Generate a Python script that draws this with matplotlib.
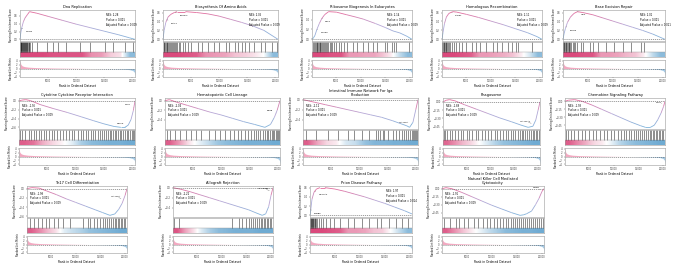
import numpy as np
import matplotlib
matplotlib.use("Agg")
import matplotlib.pyplot as plt
from matplotlib.collections import LineCollection
from matplotlib.colors import LinearSegmentedColormap, Normalize

# ---------------- data ----------------
N_GENES = 20500

titles = ["Dna Replication", "Biosynthesis Of Amino Acids", "Ribosome Biogenesis In Eukaryotes",
          "Homologous Recombination", "Base Excision Repair",
          "Cytokine Cytokine Receptor Interaction", "Hematopoietic Cell Lineage",
          "Intestinal Immune Network For Iga\nProduction", "Phagosome", "Chemokine Signaling Pathway",
          "Th17 Cell Differentiation", "Allograft Rejection", "Prion Disease Pathway",
          "Natural Killer Cell Mediated\nCytotoxicity"]

nes = [2.28, 2.05, 2.14, 2.11, 2.01, -1.96, -2.04, -2.12, -1.89, -1.93, -1.98, -2.22, 1.97, -1.91]
pvals = ["0.001"] * 14
padj = ["0.009", "0.009", "0.009", "0.009", "0.011", "0.009", "0.009", "0.009",
        "0.009", "0.009", "0.009", "0.009", "0.014", "0.009"]

metric_rank = [0, 150, 400, 800, 1500, 3000, 6000, 10000, 14000, 17000, 18500, 19500, 20100, 20400, 20500]
metric_value = [4.2, 2.2, 1.4, 1.0, 0.7, 0.45, 0.25, 0.08, -0.05, -0.2, -0.35, -0.6, -1.1, -2.0, -3.8]

es_rank_1 = [0, 150, 350, 600, 900, 1300, 1700, 3000, 5000, 7500, 10000, 12500, 15000, 17500, 19500, 20500]
es_val_1 = [0, 0.18, 0.32, 0.45, 0.55, 0.63, 0.71, 0.67, 0.59, 0.49, 0.39, 0.30, 0.21, 0.12, 0.04, 0.0]
es_rank_2 = [0, 200, 500, 900, 1400, 2000, 2500, 4000, 6000, 8000, 10000, 12000, 14000, 16000, 18000, 20500]
es_val_2 = [0, 0.2, 0.38, 0.5, 0.56, 0.6, 0.62, 0.62, 0.6, 0.57, 0.52, 0.45, 0.38, 0.3, 0.2, 0.0]
es_rank_3 = [0, 300, 600, 1000, 1500, 2000, 2600, 3400, 5000, 7000, 9000, 10500, 13000, 15000, 16600, 18000, 19500, 20500]
es_val_3 = [0, 0.03, 0.08, 0.2, 0.32, 0.42, 0.5, 0.56, 0.55, 0.5, 0.45, 0.41, 0.32, 0.24, 0.17, 0.13, 0.06, 0.0]
es_rank_4 = [0, 200, 500, 900, 1400, 2200, 3000, 5000, 7500, 10000, 12500, 15000, 17500, 19500, 20500]
es_val_4 = [0, 0.15, 0.35, 0.5, 0.58, 0.62, 0.61, 0.56, 0.49, 0.41, 0.33, 0.24, 0.15, 0.06, 0.0]
es_rank_5 = [0, 200, 500, 900, 1500, 2200, 2900, 4000, 6000, 8000, 10000, 12000, 14000, 16000, 18000, 20500]
es_val_5 = [0, 0.12, 0.25, 0.38, 0.5, 0.58, 0.62, 0.6, 0.55, 0.48, 0.41, 0.34, 0.27, 0.2, 0.12, 0.0]
es_rank_6 = [0, 500, 1200, 2000, 3700, 6000, 8500, 11000, 13200, 15000, 16800, 18000, 18700, 19300, 19800, 20200, 20500]
es_val_6 = [0, 0.02, 0.03, 0.01, -0.08, -0.17, -0.26, -0.36, -0.45, -0.52, -0.58, -0.6, -0.6, -0.55, -0.42, -0.22, 0.0]
es_rank_7 = [0, 800, 2000, 4000, 6000, 8000, 10000, 12000, 14000, 16000, 17800, 18800, 19500, 20000, 20500]
es_val_7 = [0, 0.02, -0.03, -0.1, -0.17, -0.24, -0.3, -0.37, -0.44, -0.5, -0.56, -0.5, -0.35, -0.2, 0.0]
es_rank_8 = [0, 2000, 4000, 6000, 8000, 10000, 12000, 14000, 16000, 17500, 18500, 19000, 19600, 20100, 20500]
es_val_8 = [0, -0.05, -0.1, -0.15, -0.2, -0.25, -0.3, -0.35, -0.42, -0.48, -0.52, -0.55, -0.45, -0.2, 0.0]
es_rank_9 = [0, 700, 1400, 2500, 4500, 7000, 9500, 12000, 14500, 16500, 18000, 19000, 19600, 20100, 20500]
es_val_9 = [0, 0.03, 0.04, 0.02, -0.05, -0.13, -0.21, -0.29, -0.36, -0.42, -0.46, -0.44, -0.33, -0.15, 0.0]
es_rank_10 = [0, 700, 2000, 3500, 5500, 7500, 9500, 11500, 13500, 15500, 16500, 17500, 18300, 19000, 19700, 20200, 20500]
es_val_10 = [0, 0.02, 0.03, 0.0, -0.07, -0.15, -0.23, -0.31, -0.39, -0.46, -0.49, -0.49, -0.45, -0.35, -0.22, -0.1, 0.0]
es_rank_11 = [0, 1000, 2500, 4000, 6000, 8000, 10000, 12000, 14000, 15500, 17000, 18000, 18800, 19500, 20100, 20500]
es_val_11 = [0, 0.02, 0.01, -0.05, -0.13, -0.22, -0.3, -0.38, -0.46, -0.52, -0.58, -0.55, -0.45, -0.32, -0.15, 0.0]
es_rank_12 = [0, 1500, 3500, 5500, 7500, 9500, 11500, 13500, 15500, 17000, 18300, 19000, 19600, 20100, 20500]
es_val_12 = [0, -0.03, -0.08, -0.14, -0.2, -0.26, -0.32, -0.38, -0.44, -0.5, -0.55, -0.52, -0.38, -0.15, 0.0]
es_rank_13 = [0, 150, 400, 800, 1300, 2000, 3000, 5000, 7000, 9000, 11000, 13000, 15000, 17000, 19000, 20500]
es_val_13 = [0, 0.12, 0.35, 0.5, 0.57, 0.6, 0.6, 0.57, 0.52, 0.46, 0.4, 0.33, 0.26, 0.18, 0.1, 0.03]
es_rank_14 = [0, 800, 2000, 4000, 6000, 8000, 10000, 12000, 14000, 15700, 16400, 17000, 18000, 18800, 19500, 20100, 20500]
es_val_14 = [0, 0.02, 0.0, -0.07, -0.15, -0.23, -0.31, -0.38, -0.45, -0.5, -0.49, -0.47, -0.42, -0.3, -0.18, -0.05, 0.0]

hits_1 = [40, 110, 180, 260, 330, 400, 480, 560, 640, 720, 810, 900, 990, 1080, 1180, 1290, 1400, 1520, 1650,
          1800, 2100, 3000, 4900, 5900, 6800, 8200, 10700, 12500, 15200, 16600, 18700, 20100]
hits_2 = [100, 250, 400, 520, 650, 800, 950, 1100, 1250, 1400, 1550, 1700, 1900, 2100, 2300, 2500, 2800, 3100,
          3500, 3900, 4400, 5000, 6300, 6900, 8000, 9100, 10000, 11200, 11800, 12800, 13400, 14100, 14700,
          15300, 16200, 17500, 18200, 19500, 20300]
hits_3 = [150, 400, 650, 800, 950, 1100, 1250, 1400, 1550, 1700, 1850, 2000, 2200, 2400, 2600, 2800, 3000, 3300,
          3600, 3900, 4200, 4600, 5000, 5500, 6000, 6600, 7200, 8400, 9300, 10500, 11400, 12600, 13400, 15000,
          15400, 16300, 16800, 17300, 19900]
hits_4 = [80, 200, 330, 460, 600, 750, 900, 1050, 1250, 1450, 1700, 2000, 2400, 2900, 3500, 4200, 5000, 6200,
          7000, 7800, 9000, 10500, 11300, 12200, 13600, 14300, 15200, 15500, 18400]
hits_5 = [50, 150, 280, 400, 550, 700, 850, 1000, 1150, 1300, 1500, 1700, 1950, 2200, 2500, 2900, 3600, 4000,
          5500, 6100, 7000, 8700, 10300, 12000, 13700, 15700, 16300]
hits_6 = [200, 600, 1100, 1700, 2100, 2600, 3000, 3500, 3900, 4400, 4800, 5300, 5800, 6200, 6700, 7200, 7800,
          8300, 8800, 9300, 9800, 10400, 10900, 11300, 11800, 12200, 12700, 13100, 13500, 13900, 14300, 14700,
          15000, 15400, 15700, 16000, 16300, 16600, 16900, 17200, 17500, 17800, 18100, 18400, 18700, 19000,
          19300, 19600, 19900, 20200, 20400]
hits_7 = [300, 900, 1800, 2600, 3800, 4700, 5600, 6500, 7800, 9000, 9800, 10700, 11500, 12300, 13000, 13600,
          14200, 14800, 15300, 15800, 16200, 16600, 17000, 17400, 17800, 18100, 18400, 18700, 19000, 19300,
          19500, 19700, 19900, 20100, 20300, 20450]
hits_8 = [500, 2300, 4400, 6300, 8000, 9100, 10600, 11800, 13000, 13400, 13800, 14200, 14500, 15200, 16100,
          16600, 17100, 17600, 18000, 18400, 18800, 19100, 19400, 19600, 19800, 20000, 20200, 20400]
hits_9 = [150, 500, 900, 1400, 2000, 2500, 3100, 3700, 4300, 5000, 5600, 6200, 6900, 7500, 8200, 8900, 9600,
          10200, 10900, 11500, 12100, 12700, 13300, 13800, 14300, 14800, 15300, 15800, 16200, 16600, 17000,
          17400, 17800, 18200, 18600, 19000, 19300, 19600, 19900, 20200, 20400]
hits_10 = [250, 700, 1300, 1900, 2700, 3400, 4200, 4900, 5700, 6400, 7100, 7900, 8600, 9400, 10100, 10800,
           11400, 12000, 12600, 13100, 13600, 14100, 14600, 15000, 15400, 15800, 16200, 16600, 17000, 17400,
           17700, 18000, 18300, 18600, 18900, 19200, 19500, 19800, 20100, 20400]
hits_11 = [700, 1500, 2200, 3100, 3800, 4600, 5500, 6300, 7400, 8800, 11500, 12500, 13000, 13800, 14400, 15000,
           15500, 16000, 16400, 16800, 17200, 17600, 18000, 18300, 18600, 18900, 19200, 19500, 19800, 20100, 20400]
hits_12 = [300, 1200, 12000, 13600, 14200, 14900, 15600, 16000, 16400, 16800, 17200, 17600, 18000, 18300,
           18600, 18900, 19200, 19500, 19800, 20100, 20400]
hits_13 = [60, 160, 260, 360, 460, 560, 680, 800, 950, 1100, 1300, 1500, 1800, 2200, 2700, 3300, 4000, 4900,
           6000, 7600, 8800, 10500, 11900, 13400, 14300, 15800, 17200, 18400, 19700]
hits_14 = [400, 1600, 2900, 3500, 4500, 5300, 6400, 7300, 8200, 9000, 9700, 10400, 11000, 11700, 12300, 12800,
           13300, 13800, 14300, 14700, 15100, 15500, 15900, 16300, 16700, 17100, 17500, 17900, 18300, 18700,
           19100, 19500, 19900, 20300]

strip_1 = [0.9, 0.9, 0.9, 0.85, 0.85, 0.85, 0.85, 0.55, 0.5, 0.25, 0.15, -0.6]
strip_2 = [0.9, 0.9, 0.85, 0.8, 0.55, 0.5, 0.45, 0.3, 0.25, 0.15, 0.0, -0.6]
strip_3 = [0.9, 0.9, 0.85, 0.85, 0.5, 0.5, 0.45, 0.45, 0.3, 0.1, -0.3, -0.6]
strip_4 = [0.9, 0.9, 0.85, 0.8, 0.5, 0.5, 0.45, 0.4, 0.3, 0.1, -0.2, -0.6]
strip_5 = [0.9, 0.9, 0.85, 0.85, 0.5, 0.5, 0.45, 0.35, 0.3, 0.1, -0.3, -0.6]
strip_6 = [0.8, 0.7, 0.4, 0.2, 0.05, -0.15, -0.45, -0.6, -0.65, -0.7, -0.7, -0.75]
strip_7 = [0.8, 0.5, 0.15, -0.1, -0.3, -0.5, -0.6, -0.65, -0.7, -0.7, -0.7, -0.75]
strip_8 = [0.8, 0.45, 0.2, 0.1, -0.2, -0.3, -0.55, -0.65, -0.65, -0.7, -0.7, -0.75]
strip_9 = [0.75, 0.55, 0.35, 0.2, 0.0, -0.2, -0.4, -0.55, -0.6, -0.65, -0.7, -0.75]
strip_10 = [0.8, 0.6, 0.4, 0.2, 0.1, -0.1, -0.35, -0.5, -0.6, -0.65, -0.7, -0.75]
strip_11 = [0.8, 0.6, 0.35, 0.15, -0.15, -0.3, -0.4, -0.55, -0.6, -0.65, -0.7, -0.75]
strip_12 = [0.85, 0.45, 0.15, -0.2, -0.45, -0.6, -0.65, -0.7, -0.7, -0.7, -0.75, -0.75]
strip_13 = [0.9, 0.9, 0.85, 0.8, 0.5, 0.5, 0.45, 0.3, 0.25, 0.0, -0.3, -0.6]
strip_14 = [0.8, 0.55, 0.3, 0.1, -0.1, -0.3, -0.45, -0.6, -0.65, -0.7, -0.7, -0.75]

genes_1 = [("MCM3", 300)]
genes_2 = [("PSAT1", 700), ("PHGDH", 2200)]
genes_3 = [("NOP56", 1000), ("DKC1", 2000)]
genes_4 = [("RAD51", 2000)]
genes_5 = [("POLE3", 600), ("UNG", 2900)]
genes_6 = [("CCL5", 20300), ("CXCL9", 19000)]
genes_7 = [("CD3E", 19800)]
genes_8 = [("HLA-DRA", 19300)]
genes_9 = [("HLA-DPA1", 19200)]
genes_10 = [("CCL5", 20300)]
genes_11 = [("HLA-DRA", 19800)]
genes_12 = [("HLA-DRB1", 20300)]
genes_13 = [("NDUFA4", 1000), ("PSMB5", 150)]
genes_14 = [("GZMB", 20200)]

# ---------------- layout (pixels) ----------------
W, H = 685, 266
row_tops = [0, 88, 176]
col_x = [[(20, 135), (163, 278), (312, 412), (442, 542), (563, 665)],
         [(19, 135), (165, 280), (303, 418), (443, 540), (565, 665)],
         [(27, 127), (173, 273), (310, 412), (442, 544)]]

es_ranks = [es_rank_1, es_rank_2, es_rank_3, es_rank_4, es_rank_5, es_rank_6, es_rank_7,
            es_rank_8, es_rank_9, es_rank_10, es_rank_11, es_rank_12, es_rank_13, es_rank_14]
es_vals = [es_val_1, es_val_2, es_val_3, es_val_4, es_val_5, es_val_6, es_val_7,
           es_val_8, es_val_9, es_val_10, es_val_11, es_val_12, es_val_13, es_val_14]
hits_all = [hits_1, hits_2, hits_3, hits_4, hits_5, hits_6, hits_7, hits_8, hits_9, hits_10,
            hits_11, hits_12, hits_13, hits_14]
strips = [strip_1, strip_2, strip_3, strip_4, strip_5, strip_6, strip_7, strip_8, strip_9,
          strip_10, strip_11, strip_12, strip_13, strip_14]
genes_all = [genes_1, genes_2, genes_3, genes_4, genes_5, genes_6, genes_7, genes_8, genes_9,
             genes_10, genes_11, genes_12, genes_13, genes_14]

line_cmap = LinearSegmentedColormap.from_list("es", ["#7DB3DA", "#B7A7D6", "#E5699A"])
strip_cmap = LinearSegmentedColormap.from_list("st", ["#3F8FC4", "#FFFFFF", "#D7376F"])

fig = plt.figure(figsize=(W / 100, H / 100), dpi=100)
SP = "#9A9A9A"


def ax_px(x0, x1, y0, y1):
    return fig.add_axes([x0 / W, 1 - y1 / H, (x1 - x0) / W, (y1 - y0) / H])


def style(ax):
    for s in ax.spines.values():
        s.set_color(SP)
        s.set_linewidth(0.4)
    ax.tick_params(length=1, width=0.3, pad=0.6, labelsize=1.8, colors="#444444")


k = 0
for r, row in enumerate(col_x):
    top = row_tops[r]
    for (x0, x1) in row:
        xr = np.array(es_ranks[k], dtype=float)
        yv = np.array(es_vals[k], dtype=float)
        pos = nes[k] > 0

        # --- running ES
        ax = ax_px(x0, x1, top + 10, top + 41)
        style(ax)
        pts = np.column_stack([xr, yv]).reshape(-1, 1, 2)
        segs = np.concatenate([pts[:-1], pts[1:]], axis=1)
        lc = LineCollection(segs, cmap=line_cmap, norm=Normalize(yv.min(), yv.max()), linewidth=0.6)
        lc.set_array((yv[:-1] + yv[1:]) / 2)
        ax.add_collection(lc)
        ax.axhline(0, color="#555555", lw=0.4, ls=(0, (2, 1.5)))
        ax.set_xlim(0, N_GENES)
        lo, hi = yv.min(), yv.max()
        pad = (hi - lo) * 0.06
        ax.set_ylim(lo - pad, hi + pad)
        ax.set_xticks([])
        ax.yaxis.set_major_locator(plt.MaxNLocator(4))
        ax.set_ylabel("Running Enrichment Score", fontsize=1.8, labelpad=1)
        ax.set_title(titles[k], fontsize=2.6, pad=1.2, linespacing=1.0)
        stat = f"NES: {nes[k]:.2f}\nPvalue = {pvals[k]}\nAdjusted Pvalue = {padj[k]}"
        if pos:
            ax.text(0.75, 0.9, stat, transform=ax.transAxes, fontsize=1.8, va="top", ha="left", linespacing=1.3)
        else:
            ax.text(0.03, 0.82, stat, transform=ax.transAxes, fontsize=1.8, va="top", ha="left", linespacing=1.3)
        for gname, grank in genes_all[k]:
            gy = np.interp(grank, xr, yv)
            if pos:
                tx, ty = grank + 700, gy - (hi - lo) * 0.12
                ha = "left"
            else:
                tx, ty = grank - 500, gy + (hi - lo) * 0.1
                ha = "right"
            ax.annotate(gname, xy=(grank, gy), xytext=(tx, ty), fontsize=1.6, ha=ha, va="center",
                        arrowprops=dict(arrowstyle="-", lw=0.2, color="#333333"))

        # --- hits + strip
        axb = ax_px(x0, x1, top + 42, top + 57)
        style(axb)
        axb.set_xlim(0, N_GENES)
        axb.set_ylim(0, 1)
        axb.vlines(hits_all[k], 0.32, 1.0, color="black", lw=0.45, alpha=0.7)
        sv = np.array(strips[k])[None, :]
        axb.imshow(sv, cmap=strip_cmap, vmin=-1, vmax=1, aspect="auto",
                   extent=(0, N_GENES, 0, 0.3), interpolation="bilinear")
        axb.axhline(0.31, color=SP, lw=0.3)
        axb.set_xticks([])
        axb.set_yticks([])

        # --- ranked list metric
        axm = ax_px(x0, x1, top + 60, top + 77)
        style(axm)
        mr = np.array(metric_rank, dtype=float)
        mv = np.array(metric_value, dtype=float)
        axm.fill_between(mr, 0, mv, where=mv >= 0, color="#F2A9C1", lw=0, interpolate=True)
        axm.fill_between(mr, 0, mv, where=mv <= 0, color="#A6CBE6", lw=0, interpolate=True)
        axm.axhline(0, color="#555555", lw=0.4, ls=(0, (2, 1.5)))
        axm.set_xlim(0, N_GENES)
        axm.set_ylim(-4.5, 4.5)
        axm.set_yticks([-4, -2, 0, 2, 4])
        axm.set_xticks([5000, 10000, 15000, 20000])
        axm.set_ylabel("Ranked List Metric", fontsize=1.8, labelpad=1)
        axm.set_xlabel("Rank in Ordered Dataset", fontsize=2.2, labelpad=0.8)
        k += 1

fig.savefig("out.png", dpi=100)
